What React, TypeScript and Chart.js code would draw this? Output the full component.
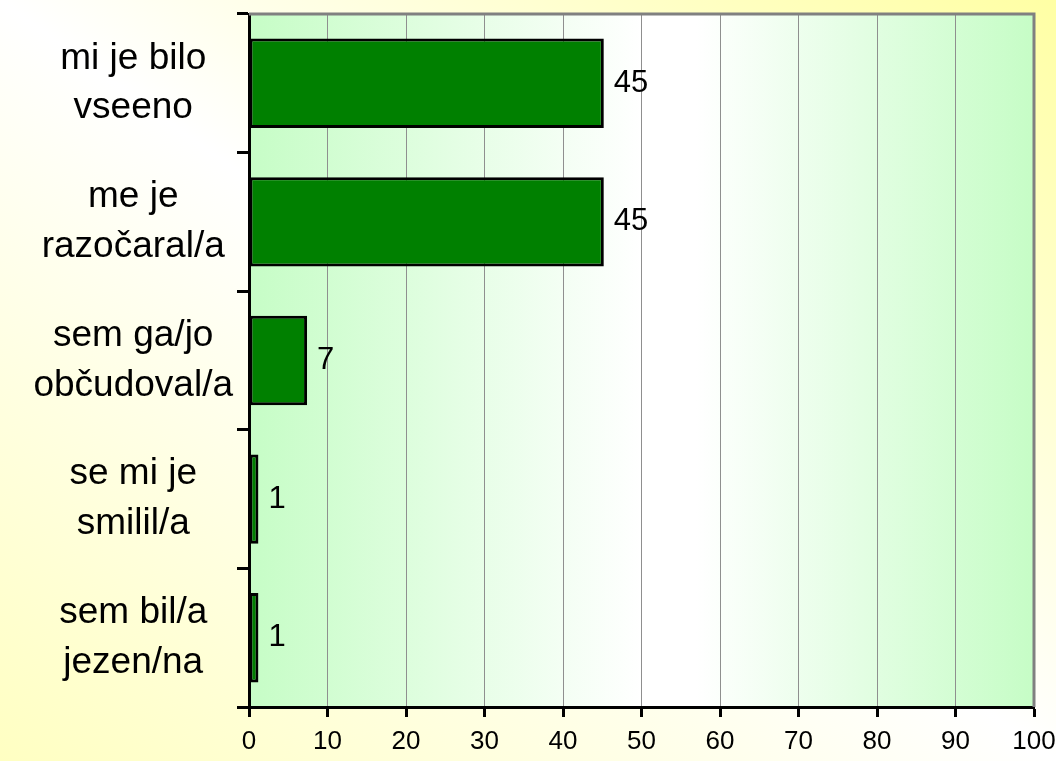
import React, { useEffect, useRef } from "react";
import { Chart, registerables } from "chart.js";

Chart.register(...registerables);

const categories: string[][] = [
  ["mi je bilo", "vseeno"],
  ["me je", "razočaral/a"],
  ["sem ga/jo", "občudoval/a"],
  ["se mi je", "smilil/a"],
  ["sem bil/a", "jezen/na"],
];
const values: number[] = [45.2, 45.2, 7.4, 1.2, 1.2];
const valueLabels: string[] = ["45", "45", "7", "1", "1"];
const xMin = 0;
const xMax = 100;
const xStep = 10;

const FONT = '"Liberation Sans", Arial, sans-serif';

const plotBackground = {
  id: "plotBackground",
  beforeDraw(chart: any) {
    const { ctx, chartArea } = chart;
    if (!chartArea) return;
    const { left, right, top, bottom } = chartArea;
    const g = ctx.createLinearGradient(left, 0, right, 0);
    g.addColorStop(0, "#c6fdc6");
    g.addColorStop(0.5, "#ffffff");
    g.addColorStop(0.57, "#ffffff");
    g.addColorStop(1, "#c6fdc6");
    ctx.save();
    ctx.fillStyle = g;
    ctx.fillRect(left, top, right - left, bottom - top);
    ctx.restore();
  },
  afterDraw(chart: any) {
    const { ctx, chartArea } = chart;
    const { left, right, top, bottom } = chartArea;
    ctx.save();
    ctx.strokeStyle = "#808080";
    ctx.lineWidth = 3;
    ctx.beginPath();
    ctx.moveTo(left, top);
    ctx.lineTo(right, top);
    ctx.lineTo(right, bottom);
    ctx.stroke();
    ctx.restore();
  },
};

const valueLabelPlugin = {
  id: "valueLabels",
  afterDatasetsDraw(chart: any) {
    const { ctx } = chart;
    const meta = chart.getDatasetMeta(0);
    ctx.save();
    ctx.fillStyle = "#000000";
    ctx.font = `31px ${FONT}`;
    ctx.textAlign = "left";
    ctx.textBaseline = "middle";
    meta.data.forEach((bar: any, i: number) => {
      ctx.fillText(valueLabels[i], bar.x + 10, bar.y);
    });
    ctx.restore();
  },
};

export default function App() {
  const canvasRef = useRef<HTMLCanvasElement | null>(null);

  useEffect(() => {
    const canvas = canvasRef.current;
    if (!canvas) return;
    const chart = new Chart(canvas, {
      type: "bar",
      data: {
        labels: categories,
        datasets: [
          {
            data: values,
            backgroundColor: "#008000",
            borderColor: "#000000",
            borderWidth: 3,
            borderSkipped: false,
            barPercentage: 0.645,
            categoryPercentage: 1,
          },
        ],
      },
      options: {
        indexAxis: "y",
        responsive: false,
        animation: false,
        layout: { padding: { top: 14, right: 22, left: 0, bottom: 0 } },
        plugins: {
          legend: { display: false },
          tooltip: { enabled: false },
          title: { display: false },
        },
        scales: {
          y: {
            type: "category",
            position: "left",
            offset: true,
            grid: {
              offset: true,
              drawOnChartArea: false,
              drawTicks: true,
              tickLength: 12,
              tickWidth: 3,
              tickColor: "#000000",
            },
            border: { display: true, color: "#000000", width: 3 },
            ticks: {
              crossAlign: "center",
              padding: 4,
              color: "#000000",
              font: { family: FONT, size: 37, lineHeight: 1.35 },
            },
            afterFit: (s: any) => {
              s.width = 249;
              s.paddingTop = 0;
              s.paddingBottom = 0;
            },
          },
          x: {
            type: "linear",
            position: "bottom",
            min: xMin,
            max: xMax,
            grid: {
              color: "#8f8f8f",
              lineWidth: 1,
              drawTicks: true,
              tickLength: 10,
              tickWidth: 3,
              tickColor: "#000000",
            },
            border: { display: true, color: "#000000", width: 3 },
            ticks: {
              stepSize: xStep,
              padding: 9,
              color: "#000000",
              font: { family: FONT, size: 26 },
              maxRotation: 0,
            },
            afterFit: (s: any) => {
              s.height = 54;
              s.paddingLeft = 0;
              s.paddingRight = 0;
            },
          },
        },
      },
      plugins: [plotBackground, valueLabelPlugin],
    });
    return () => {
      chart.destroy();
    };
  }, []);

  return (
    <div
      style={{
        position: "fixed",
        left: 0,
        top: 0,
        width: 1056,
        height: 761,
        background:
          "linear-gradient(to top right, #ffffc2 0%, #ffffff 50%, #ffffa4 100%)",
      }}
    >
      <canvas ref={canvasRef} width={1056} height={761} style={{ display: "block" }} />
    </div>
  );
}
